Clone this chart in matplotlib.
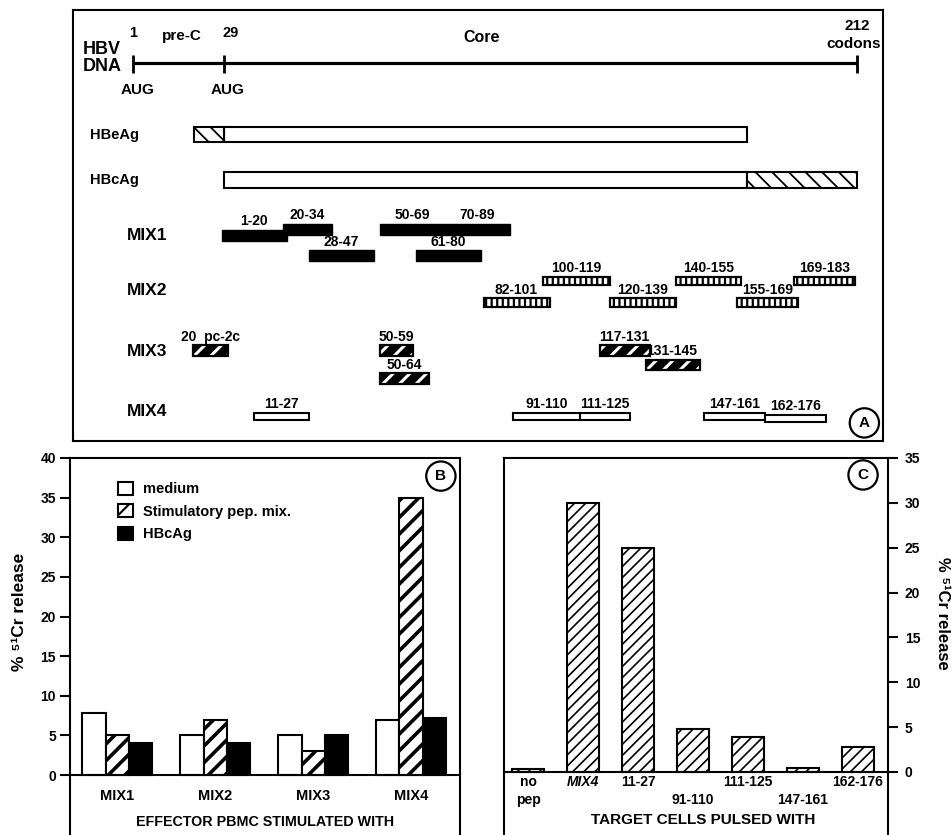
import numpy as np
import matplotlib
matplotlib.use('Agg')
import matplotlib.pyplot as plt
from matplotlib.patches import Patch

plt.rcParams['font.family'] = ['Liberation Sans', 'DejaVu Sans']
plt.rcParams['font.weight'] = 'bold'
plt.rcParams['axes.linewidth'] = 1.5
plt.rcParams['hatch.linewidth'] = 1.5

W, H = 952, 835

# ---------------- data, panel A (core residue numbering, precore codons <= 0)
codon_ticks = [1, 29, 212]
hbeag_span = [-8, 1, 157]      # precore start, core start, end
hbcag_span = [1, 157, 184]     # core start, hatched tail start, end

mix1_start = [1, 20, 28, 50, 70, 61]
mix1_end = [20, 34, 47, 69, 89, 80]
mix1_label = ['1-20', '20-34', '28-47', '50-69', '70-89', '61-80']
mix1_tier = [1, 0, 2, 0, 0, 2]

mix2_start = [82, 100, 120, 140, 155, 169]
mix2_end = [101, 119, 139, 155, 169, 183]
mix2_label = ['82-101', '100-119', '120-139', '140-155', '155-169', '169-183']
mix2_tier = [1, 0, 1, 0, 1, 0]

mix3_start = [-8, 50, 50, 117, 131]
mix3_end = [2, 59, 64, 131, 145]
mix3_label = ['20  pc-2c', '50-59', '50-64', '117-131', '131-145']
mix3_tier = [0, 0, 2, 0, 1]

mix4_start = [11, 91, 111, 147, 162]
mix4_end = [27, 110, 125, 161, 176]
mix4_label = ['11-27', '91-110', '111-125', '147-161', '162-176']
mix4_tier = [0, 0, 0, 0, 1]

# ---------------- data, panel B
b_groups = ['MIX1', 'MIX2', 'MIX3', 'MIX4']
b_medium = [7.8, 5.0, 5.0, 7.0]
b_stim = [5.0, 7.0, 3.0, 35.0]
b_hbcag = [4.0, 4.0, 5.0, 7.2]

# ---------------- data, panel C
c_labels = ['no\npep', 'MIX4', '11-27', '91-110', '111-125', '147-161', '162-176']
c_values = [0.35, 30.0, 25.0, 4.8, 3.9, 0.45, 2.8]
c_low = [False, False, False, True, False, True, False]

fig = plt.figure(figsize=(W / 100, H / 100), dpi=100)

# schematic drawing scale of panel A (residue -> pixel), hand drawn, not linear
KR = np.array([-50, -27, 1, 89, 140, 184, 192])
KP = np.array([58.7, 133, 223.5, 508, 678, 857, 889.6])


def fwd(x):
    return np.interp(x, KR, KP)


def inv(p):
    return np.interp(p, KP, KR)


axA = fig.add_axes([73 / W, 1 - 441 / H, 810 / W, 431 / H])
axA.set_xscale('function', functions=(fwd, inv))
axA.set_xlim(inv(73), inv(883))
axA.set_ylim(441, 10)
axA.set_xticks([])
axA.set_yticks([])
axA.minorticks_off()


def set_hlw(bars, lw):
    for p in bars:
        if hasattr(p, 'set_hatch_linewidth'):
            p.set_hatch_linewidth(lw)


# DNA line
r_ticks = [c - 28 for c in codon_ticks]
axA.plot([r_ticks[0], r_ticks[-1]], [63, 63], color='black', lw=2.3, solid_capstyle='butt')
axA.vlines(r_ticks, 55, 73, color='black', lw=2)
axA.text(inv(83), 49.5, 'HBV', ha='left', va='center', fontsize=13)
axA.text(inv(83), 66.5, 'DNA', ha='left', va='center', fontsize=13)
axA.text(r_ticks[0], 33, '1', ha='center', va='center', fontsize=10.5)
axA.text(inv(182), 36, 'pre-C', ha='center', va='center', fontsize=11)
axA.text(inv(231), 33, '29', ha='center', va='center', fontsize=10.5)
axA.text(inv(482), 37, 'Core', ha='center', va='center', fontsize=11.5)
axA.text(r_ticks[-1], 26, '212', ha='center', va='center', fontsize=11)
axA.text(inv(854), 43.5, 'codons', ha='center', va='center', fontsize=11)
axA.text(inv(138), 90, 'AUG', ha='center', va='center', fontsize=11)
axA.text(inv(228), 90, 'AUG', ha='center', va='center', fontsize=11)

# HBeAg / HBcAg
axA.text(inv(90), 135, 'HBeAg', ha='left', va='center', fontsize=10.5)
axA.text(inv(90), 180, 'HBcAg', ha='left', va='center', fontsize=10.5)
axA.barh(134.5, hbeag_span[2] - hbeag_span[1], left=hbeag_span[1], height=15,
         color='white', edgecolor='black', lw=1.5)
b = axA.barh(134.5, hbeag_span[1] - hbeag_span[0], left=hbeag_span[0], height=15,
             color='white', edgecolor='black', lw=1.5, hatch='\\\\')
set_hlw(b, 1.3)
axA.barh(180, hbcag_span[1] - hbcag_span[0], left=hbcag_span[0], height=16,
         color='white', edgecolor='black', lw=1.5)
b = axA.barh(180, hbcag_span[2] - hbcag_span[1], left=hbcag_span[1], height=16,
             color='white', edgecolor='black', lw=1.5, hatch='\\\\')
set_hlw(b, 1.3)

rows = [
    ('MIX1', mix1_start, mix1_end, mix1_label, mix1_tier, 235, [229, 235, 255.5], 11, 'solid'),
    ('MIX2', mix2_start, mix2_end, mix2_label, mix2_tier, 290.5, [281, 302.5], 8.5, 'ladder'),
    ('MIX3', mix3_start, mix3_end, mix3_label, mix3_tier, 351, [350.5, 365, 378.5], 10.5, 'stripe'),
    ('MIX4', mix4_start, mix4_end, mix4_label, mix4_tier, 412, [416.5, 418.5], 7.5, 'open'),
]

for name, st, en, lab, tier, row_y, tier_y, h, style in rows:
    axA.text(inv(127), row_y, name, ha='left', va='center', fontsize=12.5)
    st = np.array(st, dtype=float)
    en = np.array(en, dtype=float)
    ys = np.array([tier_y[t] for t in tier])
    left = st - 0.5
    width = en - st + 1
    if style == 'solid':
        axA.barh(ys, width, left=left, height=h, color='black', edgecolor='black', lw=1)
    elif style == 'ladder':
        b = axA.barh(ys, width, left=left, height=h, color='white', edgecolor='black',
                     lw=1.6, hatch='|||')
        set_hlw(b, 1.6)
    elif style == 'stripe':
        axA.barh(ys, width, left=left, height=h, color='black', edgecolor='black', lw=0)
        b = axA.barh(ys, width, left=left, height=h, color='none', edgecolor='white',
                     lw=0, hatch='//')
        set_hlw(b, 2.2)
        axA.barh(ys, width, left=left, height=h, color='none', edgecolor='black', lw=1.6)
    else:
        axA.barh(ys, width, left=left, height=h, color='white', edgecolor='black', lw=1.5)
    for s, e, y, t in zip(st, en, ys, lab):
        axA.text((s + e) / 2, y - h / 2 - 1.5, t, ha='center', va='bottom', fontsize=10)

circle = dict(boxstyle='circle,pad=0.5', fc='white', ec='black', lw=1.6)
axA.text(0.977, 0.042, 'A', transform=axA.transAxes, ha='center', va='center',
         fontsize=11, bbox=circle)

# ---------------- panel B
axB = fig.add_axes([70 / W, 0, 390 / W, 377 / H])
x = np.arange(len(b_groups))
w = 0.235
axB.bar(x - w, b_medium, w, color='white', edgecolor='black', lw=1.5)
b = axB.bar(x, b_stim, w, color='white', edgecolor='black', lw=1.5, hatch='//')
set_hlw(b, 2.6)
axB.bar(x + w, b_hbcag, w, color='black', edgecolor='black', lw=1.5)
axB.axhline(0, color='black', lw=1.5)
axB.set_xlim(-0.48, 3.5)
axB.set_ylim(-60 / 7.93, 40)
axB.set_yticks(np.arange(0, 41, 5))
axB.set_xticks([])
axB.tick_params(axis='y', direction='out', length=7, width=1.5, labelsize=10, pad=3)
axB.spines['bottom'].set_visible(False)
for xi, g in zip(x, b_groups):
    axB.text(xi, -2.65, g, ha='center', va='center', fontsize=10.5)
axB.text(0.5, 13 / 377, 'EFFECTOR PBMC STIMULATED WITH', transform=axB.transAxes,
         ha='center', va='center', fontsize=10.3)
h1 = Patch(facecolor='white', edgecolor='black', lw=1.5)
h2 = Patch(facecolor='white', edgecolor='black', lw=1.5, hatch='//')
h3 = Patch(facecolor='black', edgecolor='black', lw=1.5)
axB.legend([h1, h2, h3], ['medium', 'Stimulatory pep. mix.', 'HBcAg'],
           loc='upper left', bbox_to_anchor=(0.123, 0.937), frameon=False,
           fontsize=10.5, handlelength=1.0, handleheight=1.0, handletextpad=0.7,
           labelspacing=0.55, borderpad=0, borderaxespad=0)
axB.text(0.951, 0.952, 'B', transform=axB.transAxes, ha='center', va='center',
         fontsize=11, bbox=circle)
fig.text(20 / W, 1 - 612 / H, '% \u2075\u00b9Cr release', rotation=90,
         ha='center', va='center', fontsize=12.5)

# ---------------- panel C
axC = fig.add_axes([504 / W, 0, 384 / W, 377 / H])
xc = np.arange(len(c_values))
b = axC.bar(xc, c_values, 0.58, color='white', edgecolor='black', lw=1.5, hatch='///')
set_hlw(b, 1.2)
axC.axhline(0, color='black', lw=1.5)
axC.set_xlim(-0.44, 6.55)
axC.set_ylim(-63 / 8.97, 35)
axC.set_yticks(np.arange(0, 36, 5))
axC.set_xticks([])
axC.yaxis.tick_right()
axC.tick_params(axis='y', direction='out', length=7, width=1.5, labelsize=10, pad=5)
axC.spines['bottom'].set_visible(False)
for xi, lab, low in zip(xc, c_labels, c_low):
    txt = ('\n' + lab) if low else lab
    axC.text(xi, -0.35, txt, ha='center', va='top', fontsize=10, linespacing=1.35,
             style='italic' if lab == 'MIX4' else 'normal')
axC.text(0.518, 15 / 377, 'TARGET CELLS PULSED WITH', transform=axC.transAxes,
         ha='center', va='center', fontsize=11)
axC.text(0.935, 0.955, 'C', transform=axC.transAxes, ha='center', va='center',
         fontsize=11, bbox=circle)
fig.text(942 / W, 1 - 613 / H, '% \u2075\u00b9Cr release', rotation=-90,
         ha='center', va='center', fontsize=12)

fig.savefig('out.png', dpi=100, facecolor='white')
